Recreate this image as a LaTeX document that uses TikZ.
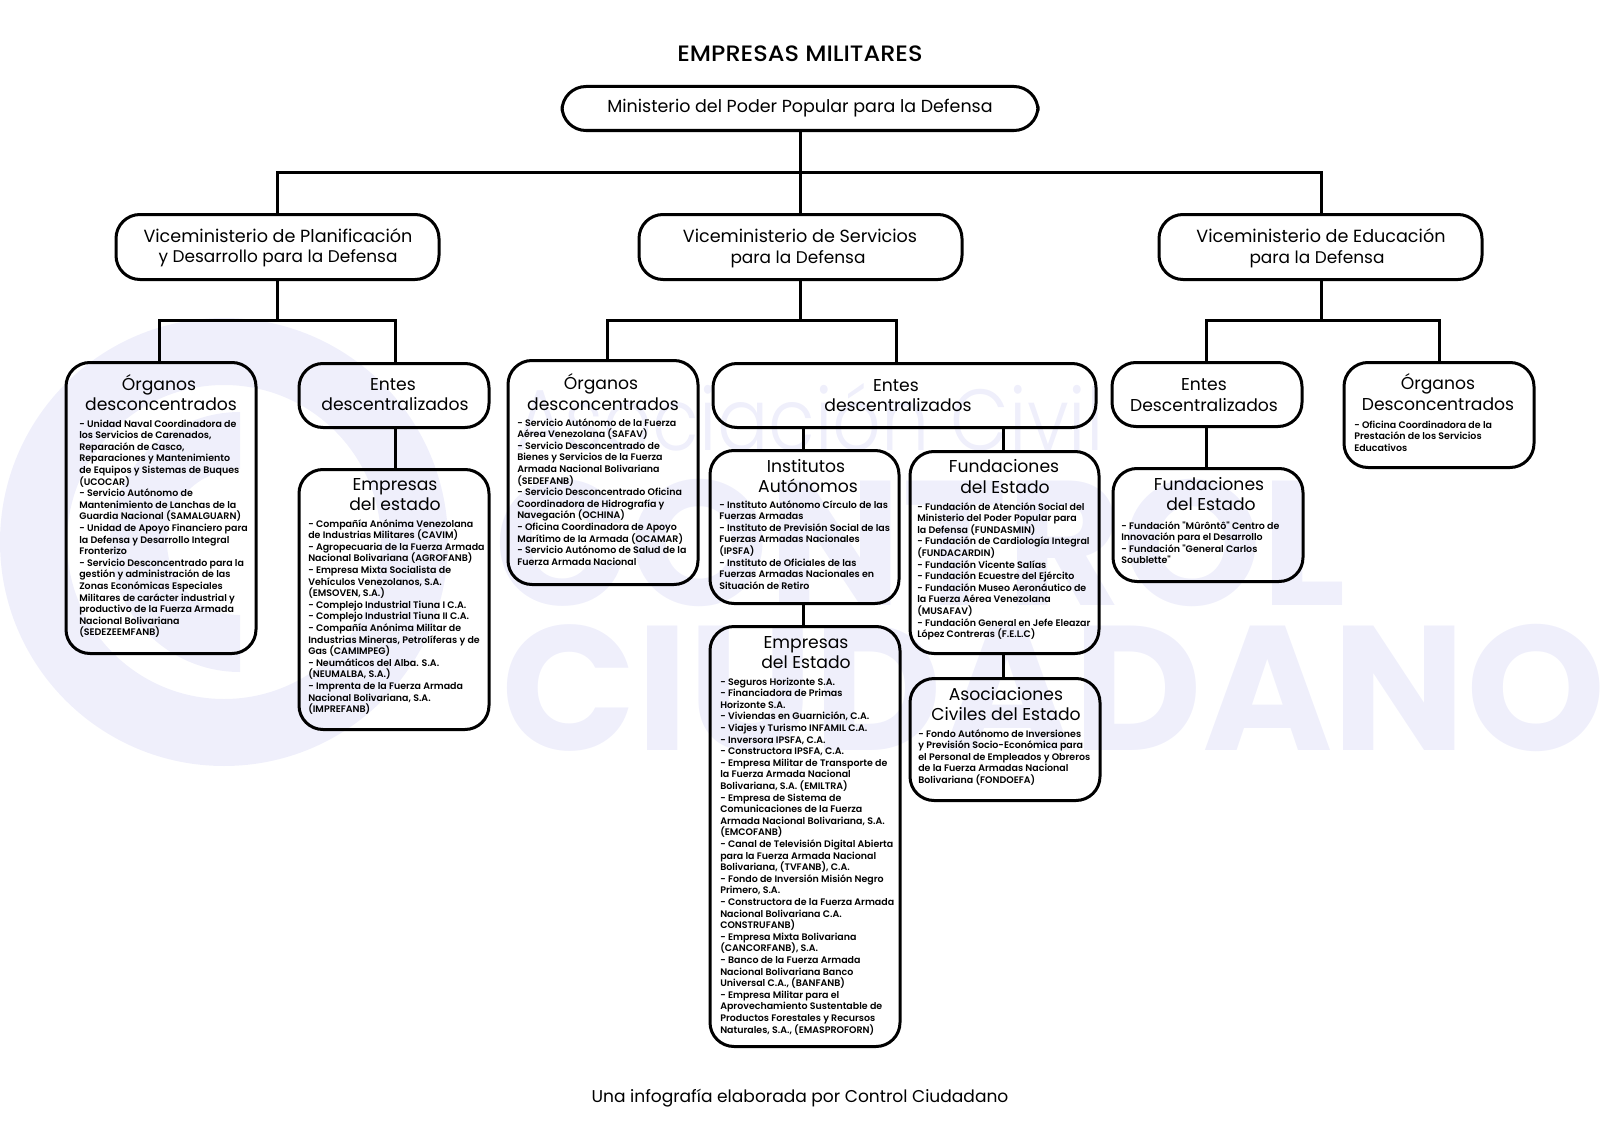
\documentclass[tikz,border=0pt]{standalone}
\usepackage{fontspec}
\setmainfont{Poppins}
\newfontfamily\wmfont{Poppins}[UprightFont=* Bold]
\newfontfamily\medfont{Poppins}[UprightFont=* SemiBold]
\newfontfamily\lightfont{Poppins}[UprightFont=* Light,FakeStretch=0.88]
\newfontfamily\wideMed{Poppins}[UprightFont=* Medium,FakeStretch=1.08]
\definecolor{wm}{HTML}{EFEFFB}
\tikzset{x=0.75pt,y=-0.75pt,
  boxn/.style={draw=black,line width=2.25pt,rounded corners=18pt,inner sep=0pt,anchor=north west},
  conn/.style={draw=black,line width=2.25pt},
  head/.style={font=\fontsize{12.9}{15}\selectfont,inner sep=0pt,anchor=base},
  vhead/.style={font=\fontsize{13.2}{15}\selectfont,inner sep=0pt,anchor=base},
  vheadb/.style={font=\fontsize{12.7}{15}\selectfont,inner sep=0pt,anchor=base},
  body/.style={font=\medfont\fontsize{7.1}{8.7}\selectfont,inner sep=0pt,anchor=base west},
}
\newcommand{\bx}[5]{\node[boxn,minimum width=#4*0.75pt-#2*0.75pt,minimum height=#5*0.75pt-#3*0.75pt] (#1) at (#2-1.5,#3-1) {};}
\newcommand{\tl}[1]{\vtop{\baselineskip=8.7pt \lineskiplimit=-30pt \def\\{\cr}\halign{##\hfil\cr #1\crcr}}}
\begin{document}
\begin{tikzpicture}
\useasboundingbox (0,0) rectangle (1600,1131);
% watermark
\fill[wm,even odd rule] (224,542) circle[radius=224] (224,542) circle[radius=157];
\begin{scope}
\clip (80,380) rectangle (240,700);
\fill[wm,even odd rule] (240,542) circle[radius=130] (240,542) circle[radius=73];
\end{scope}
\node[font=\wmfont\fontsize{133}{133}\selectfont,text=wm,anchor=base west,inner sep=0pt] (wma) at (494,605) {CONTROL};
\node[font=\wmfont\fontsize{133}{133}\selectfont,text=wm,anchor=base east,inner sep=0pt] (wmb) at (1606,750) {CIUDADANO};
\node[font=\lightfont\fontsize{65}{65}\selectfont,text=wm,anchor=base west,inner sep=0pt] (wmc) at (515,450) {Asociación Civil};
% boxes
\bx{min}{562}{86}{1038}{130}
\bx{vp}{116}{214}{439}{279}
\bx{vs}{639}{214}{962}{279}
\bx{ve}{1159}{214}{1482}{279}
\bx{orga}{66}{362}{256}{653}
\bx{enta}{299}{363}{489}{427}
\bx{empa}{299}{469}{489}{729}
\bx{orgb}{508}{360}{698}{584}
\bx{entb}{713}{363}{1096}{427}
\bx{inst}{710}{450}{899}{603}
\bx{fund}{910}{451}{1099}{653}
\bx{empb}{710}{626}{900}{1046}
\bx{asoc}{910}{678}{1100}{800}
\bx{entc}{1112}{362}{1302}{426}
\bx{orgc}{1344}{362}{1534}{467}
\bx{func}{1113}{468}{1303}{581}
% connectors
\coordinate (busm) at (800.5,172.5);
\coordinate (busl) at (277.5,172.5);
\coordinate (busr) at (1321.5,172.5);
\draw[conn] (min.south -| busm) -- (busm);
\draw[conn] (vp.north -| busl) -- (busl) -- (busr) -- (ve.north -| busr);
\draw[conn] (busm) -- (vs.north -| busm);
\coordinate (sal) at (159,320); \coordinate (sar) at (395,320);
\draw[conn] (vp.south -| busl) -- (busl |- sal);
\draw[conn] (orga.north -| sal) -- (sal) -- (sar) -- (enta.north -| sar);
\draw[conn] (enta.south -| sar) -- (empa.north -| sar);
\coordinate (sbl) at (607,320); \coordinate (sbr) at (896,320);
\draw[conn] (vs.south -| busm) -- (busm |- sbl);
\draw[conn] (orgb.north -| sbl) -- (sbl) -- (sbr) -- (entb.north -| sbr);
\coordinate (xi) at (803,400); \coordinate (xf) at (1003,400);
\draw[conn] (entb.south -| xi) -- (inst.north -| xi);
\draw[conn] (entb.south -| xf) -- (fund.north -| xf);
\draw[conn] (inst.south -| xi) -- (empb.north -| xi);
\draw[conn] (fund.south -| xf) -- (asoc.north -| xf);
\coordinate (scl) at (1206,320); \coordinate (scr) at (1439,320);
\draw[conn] (ve.south -| busr) -- (busr |- scl);
\draw[conn] (entc.north -| scl) -- (scl) -- (scr) -- (orgc.north -| scr);
\draw[conn] (entc.south -| scl) -- (func.north -| scl);
% titles
\node[font=\wideMed\fontsize{16.7}{18}\selectfont,inner sep=0pt,anchor=base] (title) at (800,62) {EMPRESAS MILITARES};
\node[font=\fontsize{13.1}{15}\selectfont,inner sep=0pt,anchor=base] (tmin) at (800,113) {Ministerio del Poder Popular para la Defensa};
\node[font=\fontsize{12.8}{15}\selectfont,inner sep=0pt,anchor=base] (foot) at (800,1102) {Una infografía elaborada por Control Ciudadano};
% head labels
\node[vhead] (h1) at (278,242) {Viceministerio de Planificación};
\node[vheadb] (h1b) at (278,262) {y Desarrollo para la Defensa};
\node[vhead] (h2) at (800,242) {Viceministerio de Servicios};
\node[vheadb] (h2b) at (798,263) {para la Defensa};
\node[vhead] (h3) at (1321,242) {Viceministerio de Educación};
\node[vheadb] (h3b) at (1317,263) {para la Defensa};
\node[head] (oa1) at (159,390) {Órganos};
\node[head] (oa2) at (161,410) {desconcentrados};
\node[head] (ea1) at (393,390) {Entes};
\node[head] (ea2) at (395,410) {descentralizados};
\node[head] (ma1) at (395,490) {Empresas};
\node[head] (ma2) at (395,510) {del estado};
\node[head] (ob1) at (601,389) {Órganos};
\node[head] (ob2) at (603,410) {desconcentrados};
\node[head] (eb1) at (896,391) {Entes};
\node[head] (eb2) at (898,411) {descentralizados};
\node[head] (ib1) at (806,472) {Institutos};
\node[head] (ib2) at (808,492) {Autónomos};
\node[head] (fb1) at (1004,472) {Fundaciones};
\node[head] (fb2) at (1005,493) {del Estado};
\node[head] (mb1) at (806,648) {Empresas};
\node[head] (mb2) at (806,668) {del Estado};
\node[head] (ab1) at (1006,700) {Asociaciones};
\node[head] (ab2) at (1006,720) {Civiles del Estado};
\node[head] (ec1) at (1204,390) {Entes};
\node[head] (ec2) at (1204,411) {Descentralizados};
\node[head] (oc1) at (1438,389) {Órganos};
\node[head] (oc2) at (1438,410) {Desconcentrados};
\node[head] (fc1) at (1209,490) {Fundaciones};
\node[head] (fc2) at (1211,510.5) {del Estado};
% bodies
\node[body] (ba) at (79,427) {\tl{- Unidad Naval Coordinadora de\\los Servicios de Carenados,\\Reparación de Casco,\\Reparaciones y Mantenimiento\\de Equipos y Sistemas de Buques\\(UCOCAR)\\- Servicio Autónomo de\\Mantenimiento de Lanchas de la\\Guardia Nacional (SAMALGUARN)\\- Unidad de Apoyo Financiero para\\la Defensa y Desarrollo Integral\\Fronterizo\\- Servicio Desconcentrado para la\\gestión y administración de las\\Zonas Económicas Especiales\\Militares de carácter industrial y\\productivo de la Fuerza Armada\\Nacional Bolivariana\\(SEDEZEEMFANB)}};
\node[body] (bb) at (308,527) {\tl{- Compañía Anónima Venezolana\\de Industrias Militares (CAVIM)\\- Agropecuaria de la Fuerza Armada\\Nacional Bolivariana (AGROFANB)\\- Empresa Mixta Socialista de\\Vehículos Venezolanos, S.A.\\(EMSOVEN, S.A.)\\- Complejo Industrial Tiuna I C.A.\\- Complejo Industrial Tiuna II C.A.\\- Compañía Anónima Militar de\\Industrias Mineras, Petrolíferas y de\\Gas (CAMIMPEG)\\- Neumáticos del Alba. S.A.\\(NEUMALBA, S.A.)\\- Imprenta de la Fuerza Armada\\Nacional Bolivariana, S.A.\\(IMPREFANB)}};
\node[body] (bc) at (517,426) {\tl{- Servicio Autónomo de la Fuerza\\Aérea Venezolana (SAFAV)\\- Servicio Desconcentrado de\\Bienes y Servicios de la Fuerza\\Armada Nacional Bolivariana\\(SEDEFANB)\\- Servicio Desconcentrado Oficina\\Coordinadora de Hidrografía y\\Navegación (OCHINA)\\- Oficina Coordinadora de Apoyo\\Marítimo de la Armada (OCAMAR)\\- Servicio Autónomo de Salud de la\\Fuerza Armada Nacional}};
\node[body] (bd) at (719,508) {\tl{- Instituto Autónomo Círculo de las\\Fuerzas Armadas\\- Instituto de Previsión Social de las\\Fuerzas Armadas Nacionales\\(IPSFA)\\- Instituto de Oficiales de las\\Fuerzas Armadas Nacionales en\\Situación de Retiro}};
\node[body] (be) at (917,510) {\tl{- Fundación de Atención Social del\\Ministerio del Poder Popular para\\la Defensa (FUNDASMIN)\\- Fundación de Cardiología Integral\\(FUNDACARDIN)\\- Fundación Vicente Salías\\- Fundación Ecuestre del Ejército\\- Fundación Museo Aeronáutico de\\la Fuerza Aérea Venezolana\\(MUSAFAV)\\- Fundación General en Jefe Eleazar\\López Contreras (F.E.L.C)}};
\node[body] (bf) at (720,685) {\tl{- Seguros Horizonte S.A.\\- Financiadora de Primas\\Horizonte S.A.\\- Viviendas en Guarnición, C.A.\\- Viajes y Turismo INFAMIL C.A.\\- Inversora IPSFA, C.A.\\- Constructora IPSFA, C.A.\\- Empresa Militar de Transporte de\\la Fuerza Armada Nacional\\Bolivariana, S.A. (EMILTRA)\\- Empresa de Sistema de\\Comunicaciones de la Fuerza\\Armada Nacional Bolivariana, S.A.\\(EMCOFANB)\\- Canal de Televisión Digital Abierta\\para la Fuerza Armada Nacional\\Bolivariana, (TVFANB), C.A.\\- Fondo de Inversión Misión Negro\\Primero, S.A.\\- Constructora de la Fuerza Armada\\Nacional Bolivariana C.A.\\CONSTRUFANB)\\- Empresa Mixta Bolivariana\\(CANCORFANB), S.A.\\- Banco de la Fuerza Armada\\Nacional Bolivariana Banco\\Universal C.A., (BANFANB)\\- Empresa Militar para el\\Aprovechamiento Sustentable de\\Productos Forestales y Recursos\\Naturales, S.A., (EMASPROFORN)}};
\node[body] (bg) at (918,737) {\tl{- Fondo Autónomo de Inversiones\\y Previsión Socio-Económica para\\el Personal de Empleados y Obreros\\de la Fuerza Armadas Nacional\\Bolivariana (FONDOEFA)}};
\node[body] (bh) at (1121,529) {\tl{- Fundación "Mûrôntô" Centro de\\Innovación para el Desarrollo\\- Fundación "General Carlos\\Soublette"}};
\node[body] (bi) at (1354,428) {\tl{- Oficina Coordinadora de la\\Prestación de los Servicios\\Educativos}};
\end{tikzpicture}
\end{document}
